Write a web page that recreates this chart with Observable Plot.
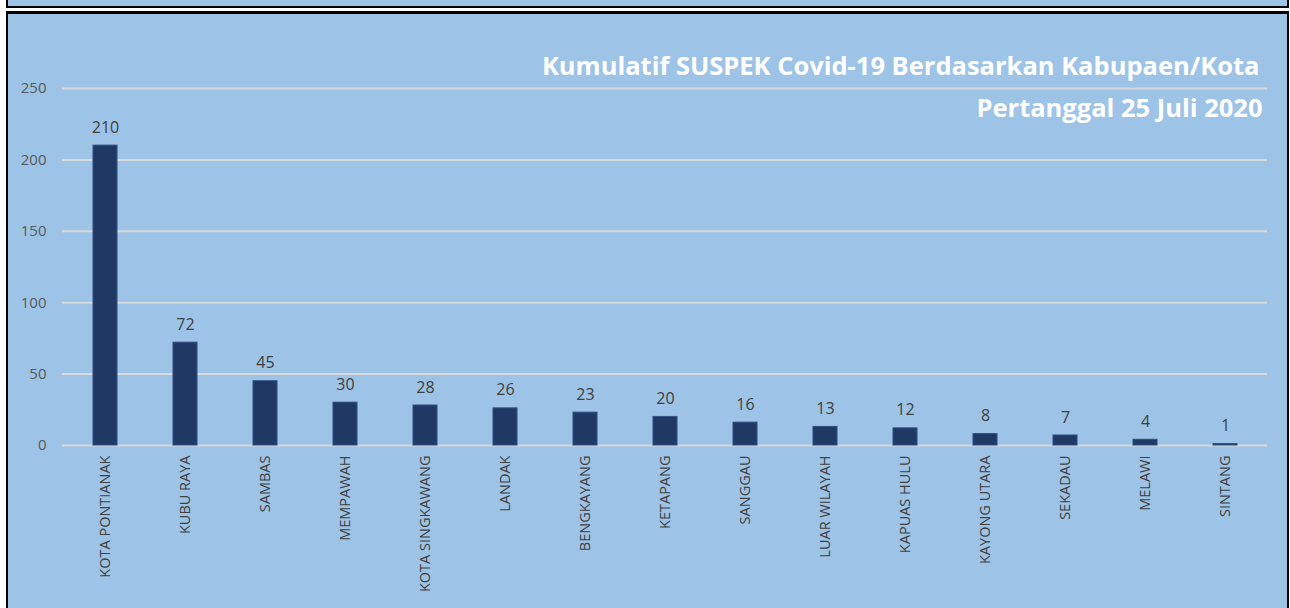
<!DOCTYPE html>
<html><head><meta charset="utf-8">
<script src="https://cdn.jsdelivr.net/npm/d3@7"></script>
<script src="https://cdn.jsdelivr.net/npm/@observablehq/plot@0.6"></script>
<style>
html,body{margin:0;padding:0;background:#fff;width:1290px;height:608px;overflow:hidden;}
#strip{position:absolute;left:6px;top:-10px;width:1283px;height:18px;background:#9dc3e6;border:2px solid #000;box-sizing:border-box;}
#panel{position:absolute;left:6px;top:11px;width:1283px;height:620px;background:#9dc3e6;border-style:solid;border-color:#000;border-width:3px 2px 3px 2px;box-sizing:border-box;}
#chart{position:absolute;left:0;top:0;}
</style></head><body>
<div id="strip"></div><div id="panel"></div><div id="chart"></div>
<script>
const regions = ["KOTA PONTIANAK","KUBU RAYA","SAMBAS","MEMPAWAH","KOTA SINGKAWANG","LANDAK","BENGKAYANG","KETAPANG","SANGGAU","LUAR WILAYAH","KAPUAS HULU","KAYONG UTARA","SEKADAU","MELAWI","SINTANG"];
const counts = [210,72,45,30,28,26,23,20,16,13,12,8,7,4,1];
const yTicks = [0,50,100,150,200,250];
const titleLine1 = "Kumulatif SUSPEK Covid-19 Berdasarkan Kabupaen/Kota";
const titleLine2 = "Pertanggal 25 Juli 2020";

const df = regions.map((r,i)=>({region:r, count:counts[i]}));

const chart = Plot.plot({
  width:1290, height:608,
  marginLeft:62, marginRight:23, marginTop:88, marginBottom:163,
  style:{background:"transparent", fontFamily:"'Open Sans', sans-serif", fontSize:"14px", color:"#595959"},
  x:{domain:regions, paddingInner:0.7, paddingOuter:0.35, label:null},
  y:{domain:[0,250], label:null, axis:null},
  marks:[
    Plot.ruleY(yTicks,{stroke:"#d9d9d9", strokeWidth:2}),
    Plot.barY(df,{x:"region", y:"count", fill:"#1f3864", stroke:"#2f4f80", strokeWidth:1}),
    Plot.text(df,{x:"region", y:"count", text:d=>String(d.count), dy:-13, lineAnchor:"bottom", fontSize:16, fill:"#404040"}),
    Plot.text(yTicks,{y:d=>d, text:d=>String(d), frameAnchor:"left", textAnchor:"end", lineAnchor:"middle", dx:-16, fontSize:15, fill:"#595959"}),
    Plot.axisX({tickSize:0, tickRotate:-90, tickPadding:10, fontSize:14.5, fill:"#404040", label:null}),
    Plot.text([titleLine1],{text:d=>d, frameAnchor:"top-right", textAnchor:"end", lineAnchor:"bottom", dx:-8, dy:-14, fontSize:25.5, fontWeight:"bold", fill:"#ffffff"}),
    Plot.text([titleLine2],{text:d=>d, frameAnchor:"top-right", textAnchor:"end", lineAnchor:"bottom", dx:-5, dy:28, fontSize:25.5, fontWeight:"bold", fill:"#ffffff"})
  ]
});
document.getElementById("chart").appendChild(chart);
</script>
</body></html>
